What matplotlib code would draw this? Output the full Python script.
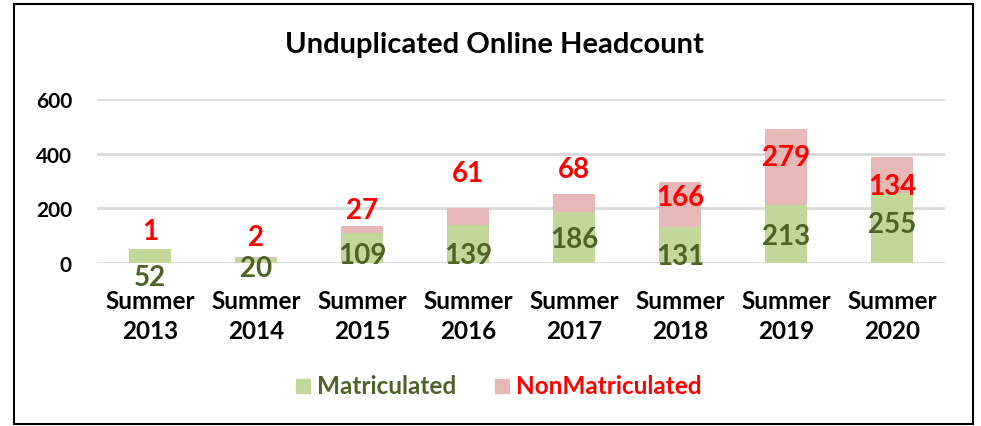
import numpy as np
import matplotlib
matplotlib.use("Agg")
import matplotlib.pyplot as plt
from matplotlib.patches import Rectangle

plt.rcParams['font.family'] = ['Lato', 'DejaVu Sans']

# data
categories = ['Summer\n2013', 'Summer\n2014', 'Summer\n2015', 'Summer\n2016',
              'Summer\n2017', 'Summer\n2018', 'Summer\n2019', 'Summer\n2020']
matriculated = [52, 20, 109, 139, 186, 131, 213, 255]
non_matriculated = [1, 2, 27, 61, 68, 166, 279, 134]

# label positions (data units) as placed in the original chart
green_label_y = [-50, -20, 28, 28, 88, 26, 99, 143]
red_label_y = [117, 95, 194, 329, 344, 241, 388, 282]

green = '#C4D79B'
pink = '#E6B9B8'
green_txt = '#4F6228'
red_txt = '#FF0000'

fig = plt.figure(figsize=(9.81, 4.27), dpi=100)
ax = fig.add_axes([97 / 981, 1 - 264 / 427, 848 / 981, 164 / 427])

x = np.arange(len(categories))
ax.bar(x, matriculated, width=0.4, color=green, zorder=2)
ax.bar(x, non_matriculated, width=0.4, bottom=matriculated, color=pink, zorder=2)

for i in range(len(x)):
    ax.text(x[i], green_label_y[i], str(matriculated[i]), ha='center', va='center',
            fontsize=20, fontweight='bold', color=green_txt, zorder=3, clip_on=False)
    ax.text(x[i], red_label_y[i], str(non_matriculated[i]), ha='center', va='center',
            fontsize=20, fontweight='bold', color=red_txt, zorder=3, clip_on=False)

ax.set_xlim(-0.5, 7.5)
ax.set_ylim(0, 600)
ax.set_yticks([0, 200, 400, 600])
ax.yaxis.grid(True, color='#D9D9D9', linewidth=2)
ax.set_axisbelow(True)
for s in ax.spines.values():
    s.set_visible(False)
ax.tick_params(axis='both', length=0)
ax.tick_params(axis='y', pad=18, labelsize=15)
ax.set_xticks(x)
ax.set_xticklabels(categories, fontsize=17.5, fontweight='bold', linespacing=1.35)
ax.tick_params(axis='x', pad=19)
for lab in ax.get_yticklabels():
    lab.set_fontweight('bold')

fig.text(494 / 981, 1 - 45 / 427, 'Unduplicated Online Headcount', ha='center', va='center',
         fontsize=21, fontweight='bold')

# legend
leg_y = 1 - 387 / 427
fig.patches.append(Rectangle((296 / 981, leg_y - 7 / 427), 14 / 981, 14 / 427,
                             transform=fig.transFigure, color=green))
fig.text(317 / 981, leg_y, 'Matriculated', ha='left', va='center', fontsize=17.5,
         fontweight='bold', color=green_txt)
fig.patches.append(Rectangle((495 / 981, leg_y - 7 / 427), 14 / 981, 14 / 427,
                             transform=fig.transFigure, color=pink))
fig.text(516 / 981, leg_y, 'NonMatriculated', ha='left', va='center', fontsize=17.5,
         fontweight='bold', color=red_txt)

# chart border
fig.patches.append(Rectangle((14 / 981, 2 / 427), 959 / 981, 420 / 427,
                             transform=fig.transFigure, fill=False,
                             edgecolor='black', linewidth=1.5))

fig.savefig('out.png', dpi=100)
